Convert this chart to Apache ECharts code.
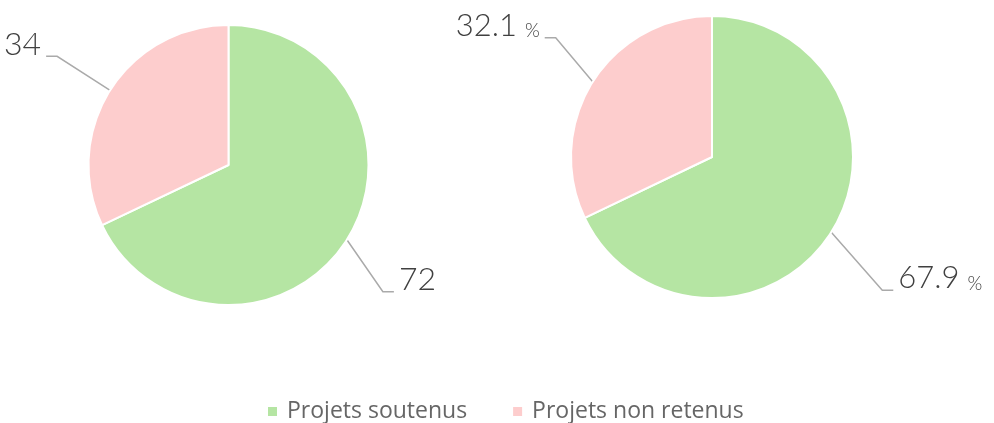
<!DOCTYPE html>
<html><head><meta charset="utf-8">
<script src="https://cdn.jsdelivr.net/npm/echarts@6/dist/echarts.min.js"></script>
<style>html,body{margin:0;padding:0;background:#fff}#c{width:994px;height:423px}</style>
</head><body><div id="c"></div>
<script>
const categories = ["Projets soutenus", "Projets non retenus"];
const countValues = [72, 34];
const percentValues = [67.9, 32.1];
const colors = ["#b5e5a3", "#fdcdcd"];

const chart = echarts.init(document.getElementById('c'));
const font = 'Lato';
// leader-line elbow offsets per [series][slice] (label placement style)
const leaderElbow = [[[36, 52], [-53, -34]], [[51, 58], [-37, -44]]];
function placeLabel(params) {
  const pts = params.labelLinePoints;
  if (!pts) return {};
  const s = pts[0];
  const o = leaderElbow[params.seriesIndex][params.dataIndex];
  const dir = o[0] >= 0 ? 1 : -1;
  const elbow = [s[0] + o[0], s[1] + o[1]];
  const end = [elbow[0] + dir * 11, elbow[1]];
  return { labelLinePoints: [s, elbow, end], x: end[0] + dir * 5, y: end[1] - 12 };
}
const common = {
  type: 'pie',
  startAngle: 90,
  clockwise: true,
  avoidLabelOverlap: false,
  itemStyle: { borderColor: '#fff', borderWidth: 2 },
  emphasis: { disabled: true },
  labelLine: { show: true, length: 40, length2: 12, lineStyle: { color: '#aaaaaa', width: 1.5 } },
  labelLayout: placeLabel
};
chart.setOption({
  animation: false,
  color: colors,
  legend: {
    top: 395, left: 261,
    itemWidth: 11, itemHeight: 11, itemGap: 44, icon: 'rect',
    textStyle: { fontFamily: 'Open Sans', fontSize: 23, color: '#666666', padding: [0,0,0,4] },
    data: categories
  },
  series: [
    Object.assign({}, common, {
      center: [228.5, 165], radius: 140,
      label: { show: true, fontFamily: font, fontWeight: 300, fontSize: 32, color: '#404040', formatter: '{c}' },
      data: categories.map((n, i) => ({ name: n, value: countValues[i] }))
    }),
    Object.assign({}, common, {
      center: [712, 157], radius: 141,
      label: {
        show: true,
        formatter: p => '{n|' + p.value.toFixed(1) + '}{p|%}',
        rich: {
          n: { fontFamily: font, fontWeight: 300, fontSize: 31, color: '#404040' },
          p: { fontFamily: font, fontWeight: 300, fontSize: 19, color: '#404040', padding: [11,0,0,8] }
        }
      },
      data: categories.map((n, i) => ({ name: n, value: percentValues[i] }))
    })
  ]
});
</script></body></html>
